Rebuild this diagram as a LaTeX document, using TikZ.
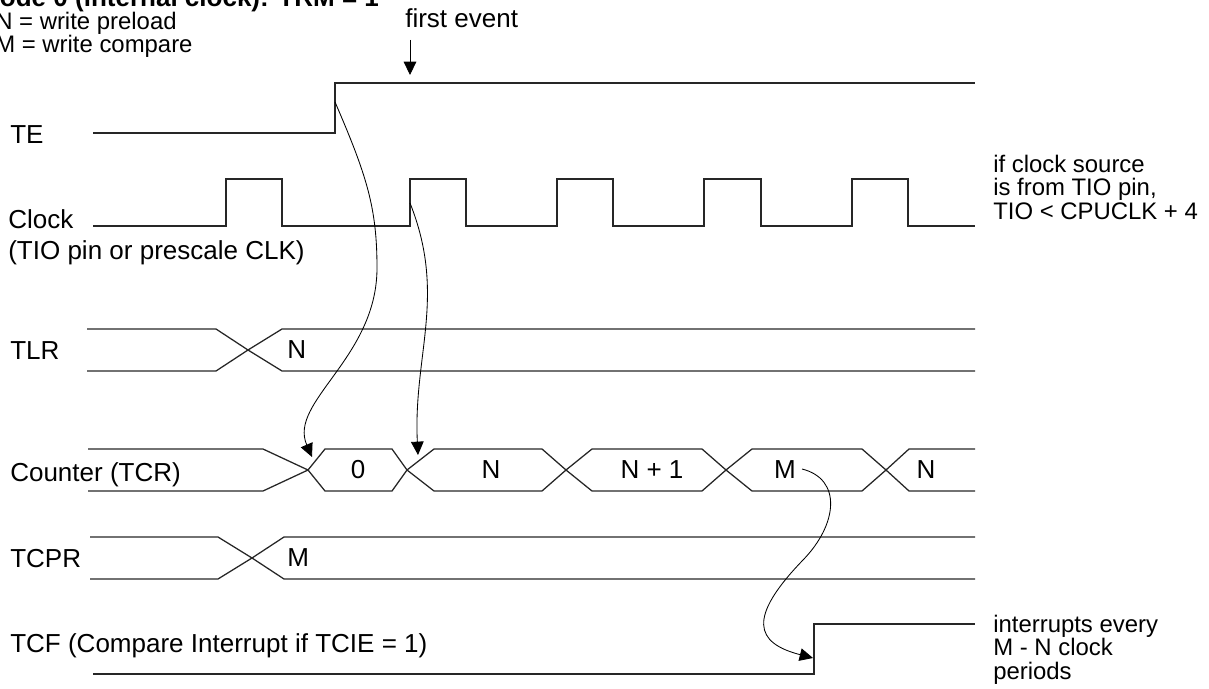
\documentclass[tikz,border=0pt]{standalone}
\usepackage{fontspec}
\setmainfont{Liberation Sans}
\usetikzlibrary{arrows.meta}

\begin{document}
\begin{tikzpicture}[
  x=0.025cm, y=-0.025cm,
  wave/.style={line width=0.9pt, black!85},
  bus/.style={line width=0.9pt, black!85},
  arr/.style={-{Triangle[length=9.5pt, width=9pt]}, line width=0.6pt, black},
  sig/.style={font=\fontsize{18.5}{22}\selectfont, anchor=base west, inner sep=0pt, align=left},
  val/.style={font=\fontsize{18.5}{22}\selectfont, inner sep=0pt},
  note/.style={font=\fontsize{17}{16.4}\selectfont, anchor=base west, inner sep=0pt, align=left},
]
  \useasboundingbox (0,0) rectangle (1209,689);

  % Heading and legend (multi-line nodes sit on their last line)
  \node[sig, font=\fontsize{18.5}{22}\selectfont\bfseries] (title) at (-22,7) {Mode 0 (internal clock): TRM = 1};
  \node[note, font=\fontsize{17}{13}\selectfont] (legend) at (-5,53) {N = write preload\\M = write compare};
  \node[sig] (first) at (405,28) {first event};

  % Signal names
  \node[sig] (te) at (10,144) {TE};
  \node[sig] (clk) at (8,259) {Clock\\(TIO pin or prescale CLK)};
  \node[sig] (tlr) at (10,359) {TLR};
  \node[sig] (tcr) at (10,481) {Counter (TCR)};
  \node[sig] (tcpr) at (10,567) {TCPR};
  \node[sig] (tcf) at (10,652) {TCF (Compare Interrupt if TCIE = 1)};

  % TE
  \draw[wave] (93,133) -- (335,133) -- (335,83) -- (975,83);
  % Clock
  \draw[wave] (93,226) -- (226,226) -- (226,179) -- (282,179) -- (282,226)
    -- (410,226) -- (410,179) -- (466,179) -- (466,226)
    -- (557,226) -- (557,179) -- (613,179) -- (613,226)
    -- (704,226) -- (704,179) -- (761,179) -- (761,226)
    -- (852,226) -- (852,179) -- (908,179) -- (908,226) -- (975,226);
  % TLR
  \draw[bus] (87,329) -- (216,329) -- (248,350) -- (216,371) -- (87,371);
  \draw[bus] (975,329) -- (282,329) -- (248,350) -- (282,371) -- (975,371);
  % Counter
  \draw[bus] (88,449) -- (263,449) -- (308,470) -- (263,491) -- (88,491);
  \draw[bus] (308,470) -- (325,449) -- (392,449) -- (407,470) -- (392,491) -- (325,491) -- cycle;
  \draw[bus] (407,470) -- (434,449) -- (542,449) -- (566,470) -- (542,491) -- (434,491) -- cycle;
  \draw[bus] (566,470) -- (592,449) -- (702,449) -- (726,470) -- (702,491) -- (592,491) -- cycle;
  \draw[bus] (726,470) -- (752,449) -- (862,449) -- (886,470) -- (862,491) -- (752,491) -- cycle;
  \draw[bus] (975,449) -- (909,449) -- (886,470) -- (909,491) -- (975,491);
  % TCPR
  \draw[bus] (90,537) -- (218,537) -- (252,558) -- (218,579) -- (90,579);
  \draw[bus] (975,537) -- (284,537) -- (252,558) -- (284,579) -- (975,579);
  % TCF
  \draw[wave] (93,674) -- (814,674) -- (814,624) -- (975,624);

  % Bus values
  \node[val, anchor=west] (tlrN) at (287,350) {N};
  \node[val] (v0) at (358,470) {0};
  \node[val] (vN) at (491,470) {N};
  \node[val] (vN1) at (652,470) {N + 1};
  \node[val] (vM) at (785,470) {M};
  \node[val] (vN2) at (926,470) {N};
  \node[val, anchor=west] (tcprM) at (287,558) {M};

  % Side notes
  \node[note] (clknote) at (993,219) {if clock source\\is from TIO pin,\\TIO < CPUCLK + 4};
  \node[note] (tcfnote) at (993,679) {interrupts every\\M - N clock\\periods};

  % Cause and effect
  \coordinate (evt) at (410,40);
  \coordinate (evtTip) at (410,75);
  \coordinate (teRise) at (335,102);
  \coordinate (bendT) at (377,268);
  \coordinate (cnt0) at (312,457);
  \coordinate (clkRise) at (410,203);
  \coordinate (cntN) at (418,455);
  \coordinate (cntM) at (802,469);
  \coordinate (bendM) at (803,560);
  \coordinate (tcfRise) at (813,658);

  \draw[arr] (evt) -- (evtTip);
  \draw[arr] (teRise) .. controls +(32,74) and +(0,-60) .. (bendT)
    .. controls +(0,90) and +(-24,-55) .. (cnt0);
  \draw[arr] (clkRise) .. controls +(37,93) and +(-5,-100) .. (cntN);
  \draw[arr] (cntM) .. controls +(40,10) and +(35,-36) .. (bendM)
    .. controls +(-56,58) and +(-58,-15) .. (tcfRise);

\end{tikzpicture}
\end{document}
